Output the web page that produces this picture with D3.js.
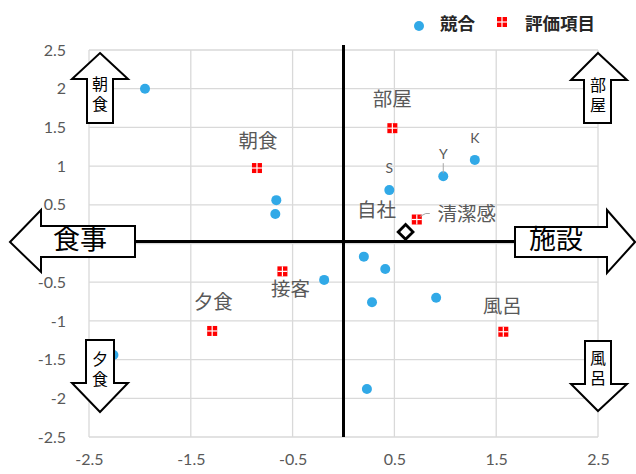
<!DOCTYPE html>
<html>
<head>
<meta charset="utf-8">
<script src="https://cdn.jsdelivr.net/npm/d3@7"></script>
<style>
  body { margin: 0; background: #fff; }
  svg text { font-family: "Noto Sans CJK JP", sans-serif; }
  .tick text { font-family: Lato, "Noto Sans", sans-serif; }
</style>
</head>
<body>
<div id="chart"></div>
<script>
// 競合 (competitors)
const rivalX = [-1.95, -0.66, -0.67, -0.19, 0.20, 0.41, 0.28, 0.23, 0.91, 0.45, 0.98, 1.29, -2.26];
const rivalY = [2.00, 0.56, 0.38, -0.47, -0.17, -0.33, -0.76, -1.88, -0.70, 0.69, 0.87, 1.08, -1.44];
const rivalName = ["", "", "", "", "", "", "", "", "", "S", "Y", "K", ""];

// 評価項目 (evaluation items)
const itemName = ["朝食", "部屋", "清潔感", "接客", "夕食", "風呂"];
const itemX = [-0.85, 0.48, 0.72, -0.60, -1.29, 1.57];
const itemY = [0.975, 1.49, 0.31, -0.36, -1.13, -1.14];

// 自社
const selfX = 0.61;
const selfY = 0.15;

const xTicks = [-2.5, -1.5, -0.5, 0.5, 1.5, 2.5];
const yTicks = [-2.5, -2, -1.5, -1, -0.5, 0, 0.5, 1, 1.5, 2, 2.5];
// the "0" label sits under the 食事 arrow, so it is not shown
const yLabels = [-2.5, -2, -1.5, -1, -0.5, 0.5, 1, 1.5, 2, 2.5];

const w = 636, h = 474;
const pLeft = 89, pRight = 598, pTop = 50, pBottom = 437;

const svg = d3.select("#chart").append("svg")
    .attr("width", w)
    .attr("height", h);

const x = d3.scaleLinear().domain([-2.5, 2.5]).range([pLeft, pRight]);
const y = d3.scaleLinear().domain([-2.5, 2.5]).range([pBottom, pTop]);

// grid
svg.append("g").selectAll("line").data(xTicks).enter().append("line")
    .attr("x1", d => x(d)).attr("x2", d => x(d))
    .attr("y1", pTop).attr("y2", pBottom)
    .attr("stroke", "#d9d9d9").attr("stroke-width", 1.3);
svg.append("g").selectAll("line").data(yTicks).enter().append("line")
    .attr("x1", pLeft).attr("x2", pRight)
    .attr("y1", d => y(d)).attr("y2", d => y(d))
    .attr("stroke", "#d9d9d9").attr("stroke-width", 1.3);

// axes (labels only)
const yAxis = d3.axisLeft(y).tickValues(yLabels).tickFormat(d => String(d)).tickSize(0).tickPadding(23);
svg.append("g").attr("transform", `translate(${pLeft},0)`).call(yAxis)
    .call(g => g.select(".domain").remove())
    .selectAll("text").attr("font-size", 16).attr("fill", "#595959");

const xAxis = d3.axisBottom(x).tickValues(xTicks).tickFormat(d => String(d)).tickSize(0).tickPadding(17);
svg.append("g").attr("transform", `translate(0,${pBottom})`).call(xAxis)
    .call(g => g.select(".domain").remove())
    .selectAll("text").attr("font-size", 16).attr("fill", "#595959");

// thick axes through origin
svg.append("line")
    .attr("x1", x(0)).attr("x2", x(0))
    .attr("y1", pTop - 5).attr("y2", pBottom)
    .attr("stroke", "#000").attr("stroke-width", 3);
svg.append("line")
    .attr("x1", 135).attr("x2", 515)
    .attr("y1", y(0) - 2).attr("y2", y(0) - 2)
    .attr("stroke", "#000").attr("stroke-width", 3);

// blue points
svg.append("g").selectAll("circle").data(rivalX).enter().append("circle")
    .attr("cx", d => x(d))
    .attr("cy", (d, i) => y(rivalY[i]))
    .attr("r", 5)
    .attr("fill", "#31a9e7");

svg.append("g").selectAll("text").data(rivalName).enter().append("text")
    .attr("x", (d, i) => x(rivalX[i]))
    .attr("y", (d, i) => y(rivalY[i]) - 17)
    .attr("text-anchor", "middle")
    .attr("font-size", 14)
    .attr("fill", "#595959")
    .style("font-family", "Lato, sans-serif")
    .text(d => d);

// Y label leader
svg.append("line")
    .attr("x1", x(0.98)).attr("x2", x(0.98))
    .attr("y1", y(0.87) - 13).attr("y2", y(0.87) - 3)
    .attr("stroke", "#a6a6a6");

// red squares
const sq = svg.append("g").selectAll("g").data(itemX).enter().append("g")
    .attr("transform", (d, i) => `translate(${x(d)},${y(itemY[i])})`);
sq.append("rect").attr("x", -5).attr("y", -5).attr("width", 10).attr("height", 10).attr("fill", "#ff0000");
sq.append("line").attr("x1", -5).attr("x2", 5).attr("y1", 0).attr("y2", 0).attr("stroke", "#fff").attr("stroke-width", 1.2);
sq.append("line").attr("x1", 0).attr("x2", 0).attr("y1", -5).attr("y2", 5).attr("stroke", "#fff").attr("stroke-width", 1.2);

// item labels
const labelOff = [[1, -25], [0, -27], [50, -4], [8, 19], [1, -27], [-1, -24]];
svg.append("g").selectAll("text").data(itemName).enter().append("text")
    .attr("x", (d, i) => x(itemX[i]) + labelOff[i][0])
    .attr("y", (d, i) => y(itemY[i]) + labelOff[i][1])
    .attr("text-anchor", "middle")
    .attr("dominant-baseline", "middle")
    .attr("font-size", 19.5)
    .attr("fill", "#595959")
    .text(d => d);

// 清潔感 leader
svg.append("polyline")
    .attr("points", `${x(0.72) + 3},${y(0.31) - 3} ${x(0.72) + 9},${y(0.31) - 6} ${x(0.72) + 13},${y(0.31) - 6}`)
    .attr("fill", "none").attr("stroke", "#a6a6a6");

// 自社 diamond
svg.append("path")
    .attr("d", d3.symbol(d3.symbolSquare, 110)())
    .attr("transform", `translate(${x(selfX)},${y(selfY)}) rotate(45)`)
    .attr("fill", "#fff").attr("stroke", "#000").attr("stroke-width", 2.8);
svg.append("text")
    .attr("x", x(selfX) - 29).attr("y", y(selfY) - 20)
    .attr("text-anchor", "middle").attr("dominant-baseline", "middle")
    .attr("font-size", 19.5).attr("fill", "#595959")
    .text("自社");

// block arrows
function arrowPath(pts) { return "M" + pts.map(p => p.join(",")).join("L") + "Z"; }
const arrows = [
    { pts: [[10, 242], [41, 210], [41, 226], [135, 226], [135, 257], [41, 257], [41, 272]], label: "食事", tx: 80, ty: 242, size: 27, vert: false },
    { pts: [[635, 242], [607, 210], [607, 227], [515, 227], [515, 257], [607, 257], [607, 273]], label: "施設", tx: 556, ty: 242, size: 27, vert: false },
    { pts: [[100, 53], [128, 79], [113, 79], [113, 123], [87, 123], [87, 79], [72, 79]], label: "朝食", tx: 100, ty: 96, size: 16, vert: true },
    { pts: [[598, 53], [627, 80], [611, 80], [611, 123], [584, 123], [584, 80], [571, 80]], label: "部屋", tx: 598, ty: 97, size: 16, vert: true },
    { pts: [[100, 412], [128, 383], [114, 383], [114, 340], [86, 340], [86, 383], [72, 383]], label: "夕食", tx: 100, ty: 371, size: 16, vert: true },
    { pts: [[598, 411], [627, 384], [611, 384], [611, 341], [585, 341], [585, 384], [571, 384]], label: "風呂", tx: 598, ty: 370, size: 16, vert: true }
];
arrows.forEach(a => {
    svg.append("path").attr("d", arrowPath(a.pts))
        .attr("fill", "#fff").attr("stroke", "#000").attr("stroke-width", 2);
    const t = svg.append("text").attr("x", a.tx).attr("y", a.ty)
        .attr("text-anchor", "middle")
        .attr("font-size", a.size).attr("fill", "#000")
        .text(a.label);
    if (a.vert) {
        t.style("writing-mode", "vertical-rl").style("letter-spacing", "4px");
    } else {
        t.attr("dominant-baseline", "middle");
    }
});

// legend
const lg = svg.append("g");
lg.append("circle").attr("cx", 419).attr("cy", 26).attr("r", 5).attr("fill", "#31a9e7");
lg.append("text").attr("x", 440).attr("y", 25).attr("dominant-baseline", "middle")
    .attr("font-size", 17.5).attr("font-weight", "bold").attr("fill", "#262626").text("競合");
const ls = lg.append("g").attr("transform", "translate(502,22)");
ls.append("rect").attr("x", -5).attr("y", -5).attr("width", 10).attr("height", 10).attr("fill", "#ff0000");
ls.append("line").attr("x1", -5).attr("x2", 5).attr("y1", 0).attr("y2", 0).attr("stroke", "#fff").attr("stroke-width", 1.2);
ls.append("line").attr("x1", 0).attr("x2", 0).attr("y1", -5).attr("y2", 5).attr("stroke", "#fff").attr("stroke-width", 1.2);
lg.append("text").attr("x", 525).attr("y", 25).attr("dominant-baseline", "middle")
    .attr("font-size", 17.5).attr("font-weight", "bold").attr("fill", "#262626").text("評価項目");
</script>
</body>
</html>
